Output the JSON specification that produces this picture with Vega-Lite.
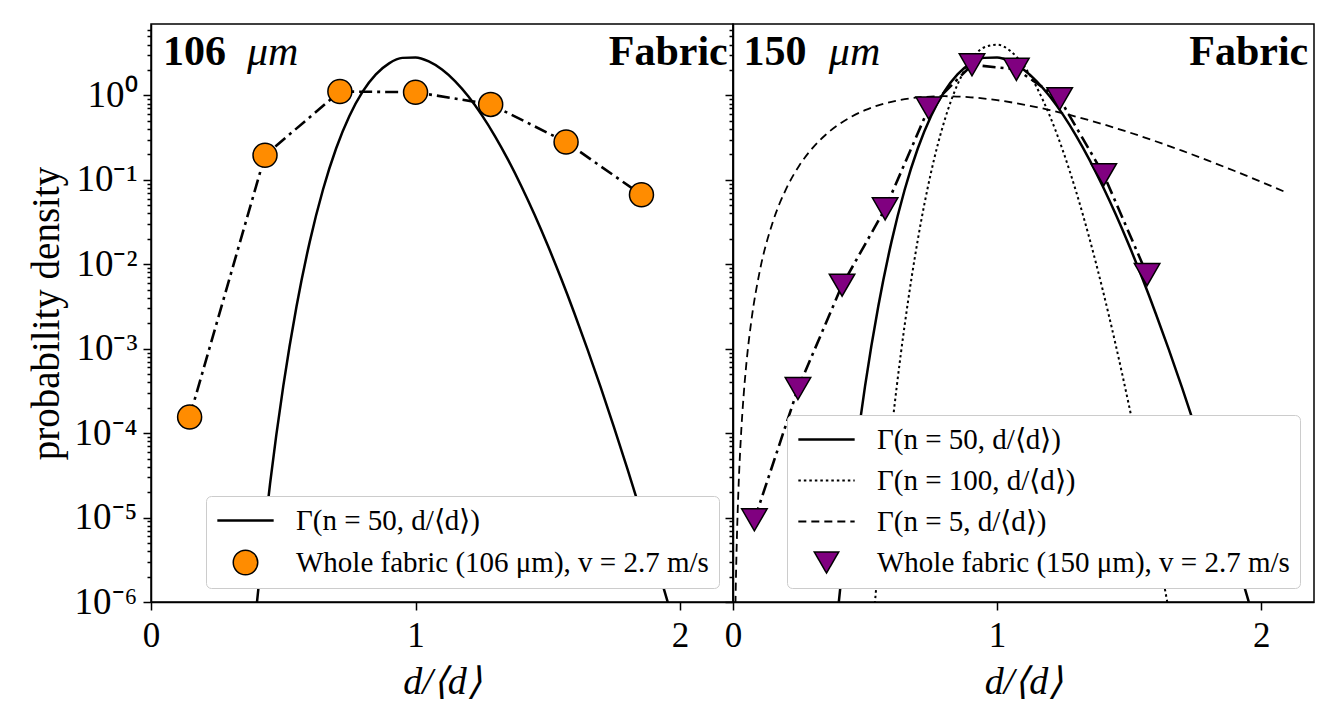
{
  "$schema": "https://vega.github.io/schema/vega-lite/v6.json",
  "background": "white",
  "padding": {"left": 26, "top": 9, "right": 20, "bottom": 5},
  "spacing": 0,
  "bounds": "flush",
  "datasets": {
    "gamma": [
      {"n": 50, "x": 0.38, "y": 2.10e-7}, {"n": 50, "x": 0.40, "y": 9.54e-7}, {"n": 50, "x": 0.42, "y": 3.83e-6},
      {"n": 50, "x": 0.45, "y": 2.51e-5}, {"n": 50, "x": 0.50, "y": 3.60e-4}, {"n": 50, "x": 0.55, "y": 3.16e-3},
      {"n": 50, "x": 0.60, "y": 0.01841}, {"n": 50, "x": 0.65, "y": 0.0763}, {"n": 50, "x": 0.70, "y": 0.2366},
      {"n": 50, "x": 0.75, "y": 0.5707}, {"n": 50, "x": 0.80, "y": 1.107}, {"n": 50, "x": 0.85, "y": 1.772},
      {"n": 50, "x": 0.90, "y": 2.394}, {"n": 50, "x": 0.95, "y": 2.779}, {"n": 50, "x": 1.00, "y": 2.817},
      {"n": 50, "x": 1.05, "y": 2.525}, {"n": 50, "x": 1.10, "y": 2.025}, {"n": 50, "x": 1.15, "y": 1.468},
      {"n": 50, "x": 1.20, "y": 0.970}, {"n": 50, "x": 1.25, "y": 0.588}, {"n": 50, "x": 1.30, "y": 0.330},
      {"n": 50, "x": 1.35, "y": 0.1722}, {"n": 50, "x": 1.40, "y": 0.0839}, {"n": 50, "x": 1.45, "y": 0.03847},
      {"n": 50, "x": 1.50, "y": 0.01663}, {"n": 50, "x": 1.55, "y": 6.81e-3}, {"n": 50, "x": 1.60, "y": 2.65e-3},
      {"n": 50, "x": 1.65, "y": 9.81e-4}, {"n": 50, "x": 1.70, "y": 3.48e-4}, {"n": 50, "x": 1.75, "y": 1.18e-4},
      {"n": 50, "x": 1.80, "y": 3.86e-5}, {"n": 50, "x": 1.85, "y": 1.21e-5}, {"n": 50, "x": 1.90, "y": 3.68e-6},
      {"n": 50, "x": 1.95, "y": 1.08e-6}, {"n": 50, "x": 2.00, "y": 3.06e-7},
      {"n": 100, "x": 0.52, "y": 2.14e-7}, {"n": 100, "x": 0.54, "y": 1.22e-6}, {"n": 100, "x": 0.56, "y": 6.03e-6},
      {"n": 100, "x": 0.58, "y": 2.63e-5}, {"n": 100, "x": 0.60, "y": 1.02e-4}, {"n": 100, "x": 0.62, "y": 3.55e-4},
      {"n": 100, "x": 0.65, "y": 1.90e-3}, {"n": 100, "x": 0.70, "y": 0.0197}, {"n": 100, "x": 0.75, "y": 0.1227},
      {"n": 100, "x": 0.80, "y": 0.4925}, {"n": 100, "x": 0.85, "y": 1.341}, {"n": 100, "x": 0.90, "y": 2.591},
      {"n": 100, "x": 0.95, "y": 3.687}, {"n": 100, "x": 1.00, "y": 3.986}, {"n": 100, "x": 1.05, "y": 3.364},
      {"n": 100, "x": 1.10, "y": 2.267}, {"n": 100, "x": 1.15, "y": 1.245}, {"n": 100, "x": 1.20, "y": 0.567},
      {"n": 100, "x": 1.25, "y": 0.2175}, {"n": 100, "x": 1.30, "y": 0.0711}, {"n": 100, "x": 1.35, "y": 0.0201},
      {"n": 100, "x": 1.40, "y": 4.96e-3}, {"n": 100, "x": 1.45, "y": 1.08e-3}, {"n": 100, "x": 1.50, "y": 2.08e-4},
      {"n": 100, "x": 1.55, "y": 3.61e-5}, {"n": 100, "x": 1.60, "y": 5.63e-6}, {"n": 100, "x": 1.65, "y": 7.98e-7},
      {"n": 100, "x": 1.70, "y": 1.03e-7},
      {"n": 5, "x": 0.005, "y": 7.94e-8}, {"n": 5, "x": 0.008, "y": 5.12e-7}, {"n": 5, "x": 0.01, "y": 1.24e-6},
      {"n": 5, "x": 0.015, "y": 6.12e-6}, {"n": 5, "x": 0.02, "y": 1.89e-5}, {"n": 5, "x": 0.03, "y": 9.08e-5},
      {"n": 5, "x": 0.04, "y": 2.73e-4}, {"n": 5, "x": 0.05, "y": 6.34e-4}, {"n": 5, "x": 0.07, "y": 2.20e-3},
      {"n": 5, "x": 0.10, "y": 7.90e-3}, {"n": 5, "x": 0.15, "y": 0.0311}, {"n": 5, "x": 0.20, "y": 0.0766},
      {"n": 5, "x": 0.25, "y": 0.1457}, {"n": 5, "x": 0.30, "y": 0.2353}, {"n": 5, "x": 0.35, "y": 0.3396},
      {"n": 5, "x": 0.40, "y": 0.4511}, {"n": 5, "x": 0.45, "y": 0.5630}, {"n": 5, "x": 0.50, "y": 0.668},
      {"n": 5, "x": 0.55, "y": 0.7617}, {"n": 5, "x": 0.60, "y": 0.840}, {"n": 5, "x": 0.70, "y": 0.944},
      {"n": 5, "x": 0.80, "y": 0.977}, {"n": 5, "x": 0.90, "y": 0.949}, {"n": 5, "x": 1.00, "y": 0.877},
      {"n": 5, "x": 1.10, "y": 0.779}, {"n": 5, "x": 1.20, "y": 0.669}, {"n": 5, "x": 1.30, "y": 0.559},
      {"n": 5, "x": 1.40, "y": 0.456}, {"n": 5, "x": 1.50, "y": 0.3646}, {"n": 5, "x": 1.60, "y": 0.2862},
      {"n": 5, "x": 1.70, "y": 0.2213}, {"n": 5, "x": 1.80, "y": 0.1687}, {"n": 5, "x": 1.90, "y": 0.1270},
      {"n": 5, "x": 2.00, "y": 0.0946}, {"n": 5, "x": 2.09, "y": 0.0719}
    ],
    "obs106": [
      {"series": "Whole fabric (106 μm), v = 2.7 m/s", "x": 0.146, "y": 1.55e-4},
      {"series": "Whole fabric (106 μm), v = 2.7 m/s", "x": 0.431, "y": 0.195},
      {"series": "Whole fabric (106 μm), v = 2.7 m/s", "x": 0.714, "y": 1.11},
      {"series": "Whole fabric (106 μm), v = 2.7 m/s", "x": 1.000, "y": 1.09},
      {"series": "Whole fabric (106 μm), v = 2.7 m/s", "x": 1.284, "y": 0.782},
      {"series": "Whole fabric (106 μm), v = 2.7 m/s", "x": 1.569, "y": 0.280},
      {"series": "Whole fabric (106 μm), v = 2.7 m/s", "x": 1.854, "y": 0.0664}
    ],
    "obs150": [
      {"series": "Whole fabric (150 μm), v = 2.7 m/s", "x": 0.081, "y": 9.4e-6},
      {"series": "Whole fabric (150 μm), v = 2.7 m/s", "x": 0.246, "y": 3.37e-4},
      {"series": "Whole fabric (150 μm), v = 2.7 m/s", "x": 0.413, "y": 5.65e-3},
      {"series": "Whole fabric (150 μm), v = 2.7 m/s", "x": 0.576, "y": 0.0453},
      {"series": "Whole fabric (150 μm), v = 2.7 m/s", "x": 0.741, "y": 0.707},
      {"series": "Whole fabric (150 μm), v = 2.7 m/s", "x": 0.905, "y": 2.30},
      {"series": "Whole fabric (150 μm), v = 2.7 m/s", "x": 1.073, "y": 2.03},
      {"series": "Whole fabric (150 μm), v = 2.7 m/s", "x": 1.237, "y": 0.911},
      {"series": "Whole fabric (150 μm), v = 2.7 m/s", "x": 1.404, "y": 0.115},
      {"series": "Whole fabric (150 μm), v = 2.7 m/s", "x": 1.568, "y": 7.53e-3}
    ],
    "note": [{"label": "note"}]
  },
  "hconcat": [
    {
      "width": 582,
      "height": 578,
      "layer": [
        {"data": {"name": "gamma"}, "transform": [{"filter": "datum.n == 50"}],
         "mark": {"type": "line", "color": "black", "strokeWidth": 2.5, "clip": true, "interpolate": "monotone"},
         "encoding": {
           "x": {"field": "x", "type": "quantitative",
                 "scale": {"domain": [0, 2.2], "nice": false, "zero": false},
                 "axis": {"values": [0, 1, 2], "format": "d", "title": "d/⟨d⟩", "titleFontStyle": "italic", "titleFontWeight": "normal", "titleFontSize": 38, "labelFontSize": 35, "tickSize": 8, "labelPadding": 8, "titlePadding": 10, "labelFlush": false}},
           "y": {"field": "y", "type": "quantitative",
                 "scale": {"type": "log", "domain": [1e-6, 7], "nice": false},
                 "axis": {"title": "probability density", "titleFontSize": 39, "titleFontWeight": "normal", "titlePadding": 8,
                          "labelFontSize": 37, "labelPadding": 6, "labelOverlap": false, "labelFlush": false,
                          "values": [1e-6,2e-6,3e-6,4e-6,5e-6,6e-6,7e-6,8e-6,9e-6,1e-5,2e-5,3e-5,4e-5,5e-5,6e-5,7e-5,8e-5,9e-5,1e-4,2e-4,3e-4,4e-4,5e-4,6e-4,7e-4,8e-4,9e-4,0.001,0.002,0.003,0.004,0.005,0.006,0.007,0.008,0.009,0.01,0.02,0.03,0.04,0.05,0.06,0.07,0.08,0.09,0.1,0.2,0.3,0.4,0.5,0.6,0.7,0.8,0.9,1,2,3,4,5,6],
                          "labelExpr": "abs(log(datum.value)/LN10 - round(log(datum.value)/LN10)) < 1e-6 ? '10' + ['⁰','⁻¹','⁻²','⁻³','⁻⁴','⁻⁵','⁻⁶'][-round(log(datum.value)/LN10)] : ''",
                          "tickSize": {"condition": {"test": "abs(log(datum.value)/LN10 - round(log(datum.value)/LN10)) < 1e-6", "value": 8}, "value": 4}}}
         }},
        {"data": {"name": "obs106"},
         "mark": {"type": "line", "color": "black", "strokeWidth": 2.6, "strokeDash": [13, 5, 3, 5]},
         "encoding": {
           "x": {"field": "x", "type": "quantitative", "scale": {"domain": [0, 2.2], "nice": false, "zero": false}},
           "y": {"field": "y", "type": "quantitative", "scale": {"type": "log", "domain": [1e-6, 7], "nice": false}}}},
        {"data": {"name": "obs106"},
         "mark": {"type": "point", "filled": true, "fill": "#ff8c00", "stroke": "black", "strokeWidth": 1.5, "size": 576, "opacity": 1},
         "encoding": {
           "x": {"field": "x", "type": "quantitative", "scale": {"domain": [0, 2.2], "nice": false, "zero": false}},
           "y": {"field": "y", "type": "quantitative", "scale": {"type": "log", "domain": [1e-6, 7], "nice": false}},
           "shape": {"field": "series", "type": "nominal",
            "scale": {"domain": ["Γ(n = 50, d/⟨d⟩)", "Whole fabric (106 μm), v = 2.7 m/s"], "range": ["M-2.3,0H2.3", "circle"]},
            "legend": {"title": null, "orient": "bottom-right", "offset": 14, "padding": 10, "fillColor": "white", "strokeColor": "#cccccc", "cornerRadius": 5,
                       "labelFontSize": 29, "labelLimit": 0, "symbolSize": 600, "rowPadding": 11, "symbolOffset": 15, "labelOffset": 36,
                       "symbolStrokeWidth": {"expr": "datum.index == 1 ? 1.5 : 2.5"},
                       "encode": {"symbols": {"stroke": {"value": "black"}, "opacity": {"value": 1},
                                   "strokeWidth": {"condition": {"test": "datum.index == 1", "value": 1.5}, "value": 2.5}}}}}}},
        {"data": {"name": "note"},
         "mark": {"type": "text", "fontWeight": "bold", "fontSize": 42, "align": "left", "baseline": "alphabetic", "color": "black"},
         "encoding": {"text": {"value": "106"},
           "x": {"datum": 0.045, "type": "quantitative", "scale": {"domain": [0, 2.2], "nice": false, "zero": false}},
           "y": {"datum": 2.29, "type": "quantitative", "scale": {"type": "log", "domain": [1e-6, 7], "nice": false}}}},
        {"data": {"name": "note"},
         "mark": {"type": "text", "fontStyle": "italic", "fontSize": 42, "align": "left", "baseline": "alphabetic", "color": "black"},
         "encoding": {"text": {"value": "μm"},
           "x": {"datum": 0.363, "type": "quantitative", "scale": {"domain": [0, 2.2], "nice": false, "zero": false}},
           "y": {"datum": 2.29, "type": "quantitative", "scale": {"type": "log", "domain": [1e-6, 7], "nice": false}}}},
        {"data": {"name": "note"},
         "mark": {"type": "text", "fontWeight": "bold", "fontSize": 42, "align": "right", "baseline": "alphabetic", "color": "black"},
         "encoding": {"text": {"value": "Fabric"},
           "x": {"datum": 2.18, "type": "quantitative", "scale": {"domain": [0, 2.2], "nice": false, "zero": false}},
           "y": {"datum": 2.29, "type": "quantitative", "scale": {"type": "log", "domain": [1e-6, 7], "nice": false}}}}
      ]
    },
    {
      "width": 581,
      "height": 578,
      "layer": [
        {"data": {"name": "gamma"}, "transform": [{"filter": "datum.n == 50"}],
         "mark": {"type": "line", "color": "black", "strokeWidth": 2.5, "clip": true, "interpolate": "monotone"},
         "encoding": {
           "x": {"field": "x", "type": "quantitative",
                 "scale": {"domain": [0, 2.2], "nice": false, "zero": false},
                 "axis": {"values": [0, 1, 2], "format": "d", "title": "d/⟨d⟩", "titleFontStyle": "italic", "titleFontWeight": "normal", "titleFontSize": 38, "labelFontSize": 35, "tickSize": 8, "labelPadding": 8, "titlePadding": 10, "labelFlush": false}},
           "y": {"field": "y", "type": "quantitative",
                 "scale": {"type": "log", "domain": [1e-6, 7], "nice": false},
                 "axis": {"title": null, "labels": false,
                          "values": [1e-6,2e-6,3e-6,4e-6,5e-6,6e-6,7e-6,8e-6,9e-6,1e-5,2e-5,3e-5,4e-5,5e-5,6e-5,7e-5,8e-5,9e-5,1e-4,2e-4,3e-4,4e-4,5e-4,6e-4,7e-4,8e-4,9e-4,0.001,0.002,0.003,0.004,0.005,0.006,0.007,0.008,0.009,0.01,0.02,0.03,0.04,0.05,0.06,0.07,0.08,0.09,0.1,0.2,0.3,0.4,0.5,0.6,0.7,0.8,0.9,1,2,3,4,5,6],
                          "tickSize": {"condition": {"test": "abs(log(datum.value)/LN10 - round(log(datum.value)/LN10)) < 1e-6", "value": 8}, "value": 4}}}
         }},
        {"data": {"name": "gamma"}, "transform": [{"filter": "datum.n == 100"}],
         "mark": {"type": "line", "color": "black", "strokeWidth": 2, "strokeDash": [2.5, 3], "clip": true, "interpolate": "monotone"},
         "encoding": {
           "x": {"field": "x", "type": "quantitative", "scale": {"domain": [0, 2.2], "nice": false, "zero": false}},
           "y": {"field": "y", "type": "quantitative", "scale": {"type": "log", "domain": [1e-6, 7], "nice": false}}}},
        {"data": {"name": "gamma"}, "transform": [{"filter": "datum.n == 5"}],
         "mark": {"type": "line", "color": "black", "strokeWidth": 1.8, "strokeDash": [8, 5], "clip": true, "interpolate": "monotone"},
         "encoding": {
           "x": {"field": "x", "type": "quantitative", "scale": {"domain": [0, 2.2], "nice": false, "zero": false}},
           "y": {"field": "y", "type": "quantitative", "scale": {"type": "log", "domain": [1e-6, 7], "nice": false}}}},
        {"data": {"name": "obs150"},
         "mark": {"type": "line", "color": "black", "strokeWidth": 2.6, "strokeDash": [13, 5, 3, 5]},
         "encoding": {
           "x": {"field": "x", "type": "quantitative", "scale": {"domain": [0, 2.2], "nice": false, "zero": false}},
           "y": {"field": "y", "type": "quantitative", "scale": {"type": "log", "domain": [1e-6, 7], "nice": false}}}},
        {"data": {"name": "obs150"},
         "mark": {"type": "point", "filled": true, "fill": "#800080", "stroke": "black", "strokeWidth": 1.5, "size": 650, "opacity": 1},
         "encoding": {
           "x": {"field": "x", "type": "quantitative", "scale": {"domain": [0, 2.2], "nice": false, "zero": false}},
           "y": {"field": "y", "type": "quantitative", "scale": {"type": "log", "domain": [1e-6, 7], "nice": false}},
           "shape": {"field": "series", "type": "nominal",
            "scale": {"domain": ["Γ(n = 50, d/⟨d⟩)", "Γ(n = 100, d/⟨d⟩)", "Γ(n = 5, d/⟨d⟩)", "Whole fabric (150 μm), v = 2.7 m/s"], "range": ["M-2.3,0H2.3", "M-2.3,0H2.3", "M-2.3,0H2.3", "triangle-down"]},
            "legend": {"title": null, "orient": "bottom-right", "offset": 14, "padding": 10, "fillColor": "white", "strokeColor": "#cccccc", "cornerRadius": 5,
                       "labelFontSize": 29, "labelLimit": 0, "symbolSize": 600, "rowPadding": 11, "symbolOffset": 15, "labelOffset": 36,
                       "symbolStrokeWidth": {"expr": "datum.index == 3 ? 1.5 : datum.index == 0 ? 2.5 : datum.index == 1 ? 2 : 1.8"},
                       "symbolDash": {"expr": "datum.index == 1 ? [2.5, 3] : datum.index == 2 ? [8, 5] : [1, 0]"},
                       "encode": {"symbols": {"stroke": {"value": "black"}, "opacity": {"value": 1},
                                   "strokeWidth": {"condition": [{"test": "datum.index == 3", "value": 1.5}, {"test": "datum.index == 0", "value": 2.5}, {"test": "datum.index == 1", "value": 2}], "value": 1.8},
                                   "strokeDash": {"condition": [{"test": "datum.index == 1", "value": [2.5, 3]}, {"test": "datum.index == 2", "value": [8, 5]}], "value": [1, 0]}}}}}}},
        {"data": {"name": "note"},
         "mark": {"type": "text", "fontWeight": "bold", "fontSize": 42, "align": "left", "baseline": "alphabetic", "color": "black"},
         "encoding": {"text": {"value": "150"},
           "x": {"datum": 0.04, "type": "quantitative", "scale": {"domain": [0, 2.2], "nice": false, "zero": false}},
           "y": {"datum": 2.29, "type": "quantitative", "scale": {"type": "log", "domain": [1e-6, 7], "nice": false}}}},
        {"data": {"name": "note"},
         "mark": {"type": "text", "fontStyle": "italic", "fontSize": 42, "align": "left", "baseline": "alphabetic", "color": "black"},
         "encoding": {"text": {"value": "μm"},
           "x": {"datum": 0.363, "type": "quantitative", "scale": {"domain": [0, 2.2], "nice": false, "zero": false}},
           "y": {"datum": 2.29, "type": "quantitative", "scale": {"type": "log", "domain": [1e-6, 7], "nice": false}}}},
        {"data": {"name": "note"},
         "mark": {"type": "text", "fontWeight": "bold", "fontSize": 42, "align": "right", "baseline": "alphabetic", "color": "black"},
         "encoding": {"text": {"value": "Fabric"},
           "x": {"datum": 2.178, "type": "quantitative", "scale": {"domain": [0, 2.2], "nice": false, "zero": false}},
           "y": {"datum": 2.29, "type": "quantitative", "scale": {"type": "log", "domain": [1e-6, 7], "nice": false}}}}
      ]
    }
  ],
  "resolve": {"scale": {"x": "independent", "y": "independent", "shape": "independent"}, "legend": {"shape": "independent"}},
  "config": {
    "font": "Liberation Serif",
    "view": {"stroke": "black", "strokeWidth": 1.5},
    "axis": {"domainColor": "black", "domainWidth": 1.5, "tickColor": "black", "tickWidth": 1.5, "labelColor": "black", "titleColor": "black", "labelFont": "Liberation Serif", "titleFont": "Liberation Serif", "grid": false},
    "legend": {"labelFont": "Liberation Serif", "labelColor": "black"},
    "text": {"color": "black", "font": "Liberation Serif"}
  }
}
